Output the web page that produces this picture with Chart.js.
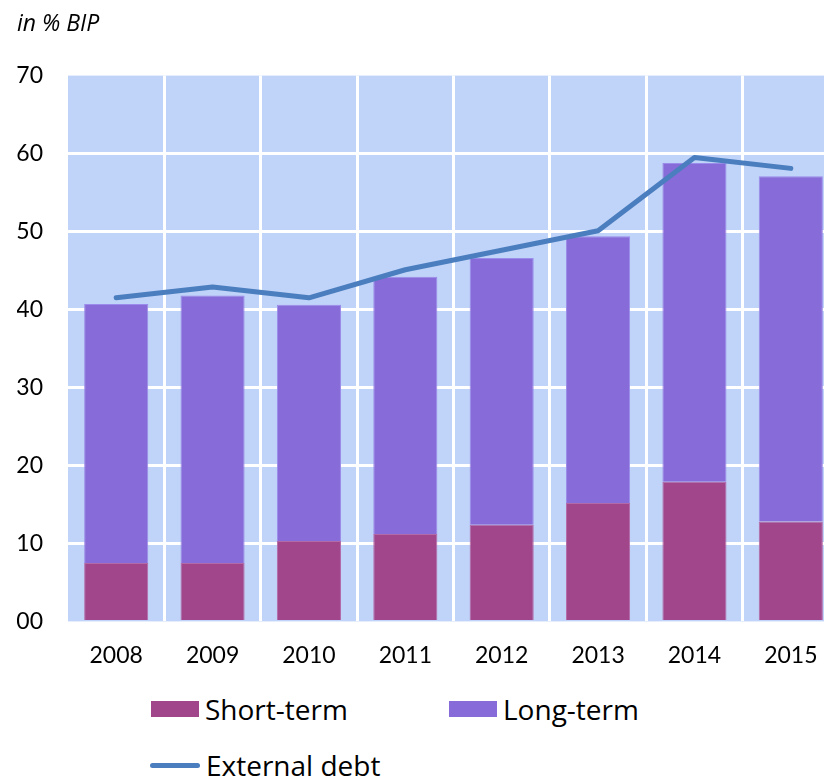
<!DOCTYPE html>
<html>
<head>
<meta charset="utf-8">
<script src="https://cdn.jsdelivr.net/npm/chart.js@4/dist/chart.umd.min.js"></script>
<style>
  html, body { margin: 0; padding: 0; background: #ffffff; overflow: hidden; width: 824px; height: 777px; }
  #wrap { position: relative; width: 824px; height: 777px; overflow: hidden; }
  canvas { position: absolute; left: 0; top: 0; }
  .lg { position: absolute; font-family: "Open Sans", Lato, sans-serif; font-size: 28px; line-height: 32px; color: #000; display: flex; align-items: center; white-space: nowrap; }
  .sw { display: inline-block; width: 48px; height: 16px; margin-right: 6px; }
  .ln { display: inline-block; width: 50px; height: 5px; border-radius: 3px; margin-right: 6px; }
</style>
</head>
<body>
<div id="wrap">
  <canvas id="c" width="845" height="690"></canvas>
</div>
<script>
const categories = ['2008', '2009', '2010', '2011', '2012', '2013', '2014', '2015'];
const shortTerm = [7.5, 7.5, 10.3, 11.2, 12.4, 15.2, 17.9, 12.8];
const longTerm = [33.2, 34.3, 30.3, 33.0, 34.2, 34.2, 40.9, 44.3];
const externalDebt = [41.5, 42.9, 41.5, 45.1, 47.6, 50.1, 59.5, 58.1];
const yTickLabels = {0: '00', 10: '10', 20: '20', 30: '30', 40: '40', 50: '50', 60: '60', 70: '70'};
const seriesNames = ['Short-term', 'Long-term', 'External debt'];
const unitLabel = 'in % BIP';

const FONT = 'Lato, "Open Sans", sans-serif';

const plotBg = {
  id: 'plotBg',
  beforeDraw(chart) {
    const {ctx, chartArea: a} = chart;
    ctx.save();
    ctx.fillStyle = '#C0D3F8';
    ctx.fillRect(a.left, a.top, a.right - a.left, a.bottom - a.top);
    ctx.restore();
  }
};

const chart = new Chart(document.getElementById('c'), {
  data: {
    labels: categories,
    datasets: [
      {
        type: 'line', label: seriesNames[2], data: externalDebt, stack: 'line',
        borderColor: '#4A7EBF', borderWidth: 5, pointRadius: 0, tension: 0,
        borderCapStyle: 'round', borderJoinStyle: 'round', order: 0
      },
      {
        type: 'bar', label: seriesNames[0], data: shortTerm, stack: 'debt',
        backgroundColor: '#A1468A', borderColor: '#B36AA8', borderWidth: 1,
        barPercentage: 0.665, categoryPercentage: 1, order: 1
      },
      {
        type: 'bar', label: seriesNames[1], data: longTerm, stack: 'debt',
        backgroundColor: '#876BD8', borderColor: '#9B8BEA', borderWidth: 1,
        barPercentage: 0.665, categoryPercentage: 1, order: 1
      }
    ]
  },
  options: {
    responsive: false,
    devicePixelRatio: 1,
    animation: false,
    layout: { padding: { left: 17, right: 6, top: 0, bottom: 1 } },
    plugins: {
      legend: { display: false },
      tooltip: { enabled: false },
      title: {
        display: true, text: unitLabel, align: 'start',
        color: '#000', font: { family: '"Open Sans", Lato, sans-serif', size: 23, style: 'italic', weight: 'normal' },
        padding: { top: 11, bottom: 37 }
      }
    },
    scales: {
      x: {
        stacked: true,
        offset: true,
        border: { display: false },
        grid: {
          offset: true, drawTicks: false, lineWidth: 3,
          color: (c) => (c.index === 0 ? 'rgba(0,0,0,0)' : '#FFFFFF')
        },
        ticks: { color: '#000', font: { family: FONT, size: 23 }, padding: 20 }
      },
      y: {
        stacked: true,
        min: 0, max: 70,
        border: { display: false },
        afterFit: (s) => { s.width = 51; },
        grid: {
          drawTicks: false, lineWidth: 3,
          color: (c) => (c.tick && (c.tick.value === 0 || c.tick.value === 70) ? 'rgba(0,0,0,0)' : '#FFFFFF')
        },
        ticks: {
          stepSize: 10, color: '#000', font: { family: FONT, size: 23 }, padding: 25,
          callback: (v) => (yTickLabels[v] !== undefined ? yTickLabels[v] : v)
        }
      }
    }
  },
  plugins: [plotBg]
});

// HTML legend built from the chart datasets
const wrap = document.getElementById('wrap');
const legendPos = { [seriesNames[0]]: [151, 693], [seriesNames[1]]: [449, 693], [seriesNames[2]]: [150, 749] };
chart.data.datasets.forEach((ds) => {
  const item = document.createElement('div');
  item.className = 'lg';
  const p = legendPos[ds.label];
  item.style.left = p[0] + 'px';
  item.style.top = p[1] + 'px';
  const mark = document.createElement('span');
  if (ds.type === 'line') { mark.className = 'ln'; mark.style.background = ds.borderColor; }
  else { mark.className = 'sw'; mark.style.background = ds.backgroundColor; }
  item.appendChild(mark);
  item.appendChild(document.createTextNode(ds.label));
  wrap.appendChild(item);
});
</script>
</body>
</html>
